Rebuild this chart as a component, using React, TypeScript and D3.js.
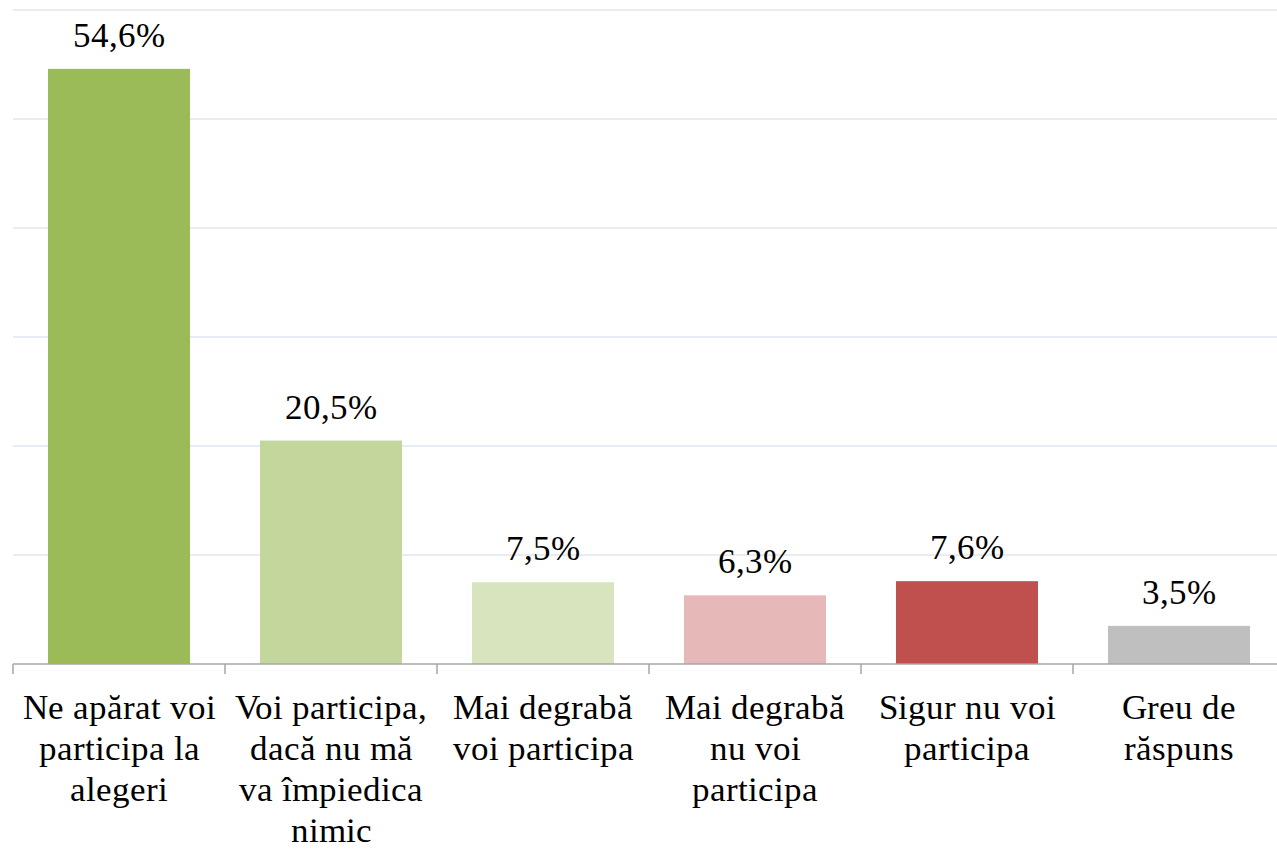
import React from "react";
import * as d3 from "d3";

const categories = [
  "Ne apărat voi participa la alegeri",
  "Voi participa, dacă nu mă va împiedica nimic",
  "Mai degrabă voi participa",
  "Mai degrabă nu voi participa",
  "Sigur nu voi participa",
  "Greu de răspuns",
];
const categoryLines = [
  ["Ne apărat voi", "participa la", "alegeri"],
  ["Voi participa,", "dacă nu mă", "va împiedica", "nimic"],
  ["Mai degrabă", "voi participa"],
  ["Mai degrabă", "nu voi", "participa"],
  ["Sigur nu voi", "participa"],
  ["Greu de", "răspuns"],
];
const values = [54.6, 20.5, 7.5, 6.3, 7.6, 3.5];
const valueLabels = ["54,6%", "20,5%", "7,5%", "6,3%", "7,6%", "3,5%"];
const barColors = ["#9BBB59", "#C3D69B", "#D7E4BD", "#E6B9B8", "#C0504D", "#BFBFBF"];
const gridTicks = [10, 20, 30, 40, 50, 60];

const W = 1277;
const H = 851;
const plotLeft = 13;
const plotRight = 1285;
const plotTop = 10;
const plotBottom = 664;

const css = `
@font-face { font-family: "ChartSerif"; src: local("Liberation Serif"), local("LiberationSerif"), local("Tinos"), local("Times New Roman"); }
svg.chart text, svg.chart tspan { font-family: "ChartSerif", "Liberation Serif", "Times New Roman", serif !important; }
`;

export default function App() {
  const x = d3
    .scaleBand<string>()
    .domain(categories)
    .range([plotLeft, plotRight])
    .paddingInner(0.33)
    .paddingOuter(0.165);
  const y = d3.scaleLinear().domain([0, 60]).range([plotBottom, plotTop]);
  const step = x.step();
  const boundaries = d3.range(categories.length + 1).map((i) => plotLeft + i * step);

  return (
    <svg className="chart" width={W} height={H} style={{ position: "absolute", left: 0, top: 0 }}>
      <style>{css}</style>
      {gridTicks.map((t) => (
        <line
          key={t}
          x1={plotLeft}
          x2={W}
          y1={y(t)}
          y2={y(t)}
          stroke="#E1E7F1"
          strokeWidth={1.5}
        />
      ))}
      {categories.map((c, i) => (
        <rect
          key={c}
          x={x(c)}
          y={y(values[i])}
          width={x.bandwidth()}
          height={y(0) - y(values[i])}
          fill={barColors[i]}
        />
      ))}
      <line x1={plotLeft} x2={W} y1={y(0)} y2={y(0)} stroke="#A6A6A6" strokeWidth={1.5} />
      {boundaries.map((bx, i) => (
        <line key={i} x1={bx} x2={bx} y1={y(0)} y2={y(0) + 10} stroke="#A6A6A6" strokeWidth={1.5} />
      ))}
      {categories.map((c, i) => (
        <text
          key={c}
          x={(x(c) as number) + x.bandwidth() / 2}
          y={y(values[i]) - 22}
          textAnchor="middle"
          fontFamily="Liberation Serif"
          fontSize={35}
        >
          {valueLabels[i]}
        </text>
      ))}
      {categories.map((c, i) => (
        <text key={c} textAnchor="middle" fontFamily="Liberation Serif" fontSize={35}>
          {categoryLines[i].map((ln, j) => (
            <tspan key={j} x={(x(c) as number) + x.bandwidth() / 2} y={719 + j * 41}>
              {ln}
            </tspan>
          ))}
        </text>
      ))}
    </svg>
  );
}
